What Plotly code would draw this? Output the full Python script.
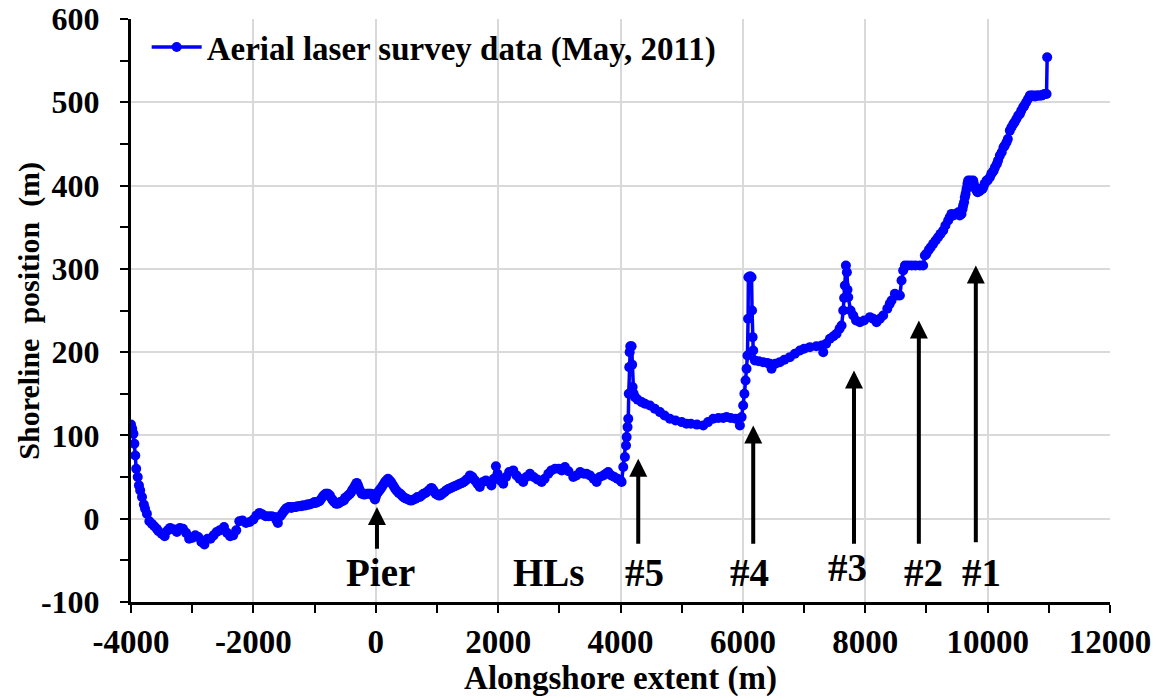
import plotly.graph_objects as go

# Shoreline position (m) versus alongshore distance (m), aerial laser survey May 2011.
# Readings are grouped by stretch of coast and merged before plotting.
west_x = [
    -4000, -3980, -3960, -3945, -3930, -3915, -3890, -3870, -3850, -3820,
    -3790, -3770, -3740, -3700, -3660, -3620, -3580, -3550, -3500, -3450,
    -3400, -3360, -3300, -3250, -3200, -3150, -3100, -3050, -3000, -2950,
    -2900, -2850, -2800, -2750, -2700, -2650, -2600, -2550, -2480, -2430,
    -2380, -2330, -2280, -2230, -2180, -2120, -2060, -2000, -1950, -1900,
    -1850, -1800, -1750, -1700, -1650, -1620, -1600, -1560, -1530, -1500,
    -1480, -1450, -1420, -1400, -1380, -1350, -1320, -1300, -1280, -1250,
    -1220, -1200, -1180, -1150, -1120, -1100, -1080, -1050, -1020, -1000,
    -980, -950, -920, -900, -870, -850, -820, -800, -780, -750,
    -720, -700, -680, -650, -620, -600, -580, -550, -520, -500,
    -480, -450, -420, -400, -380, -350, -330, -310, -290, -270,
    -250, -230, -200, -175, -150, -125, -100, -75, -50, -30,
    -13,
]
west_y = [
    113, 108, 102, 90, 76, 60, 50, 40, 34, 26,
    17, 12, 6, -3, -6, -9, -12, -15, -18, -21,
    -14, -11, -13, -16, -11, -12, -17, -24, -23, -20,
    -22, -28, -31, -24, -24, -20, -16, -14, -10, -17,
    -21, -20, -14, -3, -2, -5, -4, -1, 4, 7,
    5, 3, 3, 3, 2, -2, -5, 3, 6, 9,
    11, 13, 14, 14, 13, 14, 14, 14, 15, 15,
    15, 16, 16, 16, 17, 17, 17, 18, 19, 20,
    19, 20, 21, 23, 26, 28, 30, 30, 30, 28,
    24, 22, 20, 18, 18, 19, 20, 21, 22, 25,
    26, 28, 30, 32, 35, 38, 41, 43, 40, 36,
    33, 30, 29, 29, 30, 30, 30, 30, 29, 26,
    23,
]
central_x = [
    0, 20, 40, 60, 80, 100, 125, 150, 175, 200,
    225, 250, 275, 300, 325, 350, 375, 400, 425, 450,
    475, 500, 530, 560, 590, 620, 650, 680, 720, 750,
    780, 815, 850, 880, 910, 935, 960, 980, 1000, 1025,
    1050, 1075, 1100, 1125, 1150, 1175, 1200, 1230, 1260, 1290,
    1320, 1350, 1380, 1410, 1440, 1470, 1500, 1540, 1580, 1620,
    1660, 1700, 1750, 1800, 1850, 1890, 1930, 1964, 1990, 2030,
    2084, 2130, 2180, 2247, 2300, 2350, 2410, 2460, 2520, 2580,
    2640, 2711, 2760, 2820, 2870, 2930, 2990, 3040, 3092, 3150,
    3228, 3280, 3340, 3400, 3446, 3500, 3560, 3610, 3660, 3720,
    3760, 3799, 3850, 3900, 3950, 4000, 4018,
]
central_y = [
    26, 30, 32, 34, 36, 38, 41, 44, 46, 48,
    46, 44, 41, 38, 35, 33, 31, 30, 28, 26,
    25, 24, 23, 22, 22, 23, 24, 26, 26, 28,
    30, 31, 33, 35, 37, 35, 32, 30, 29, 28,
    28, 29, 31, 32, 34, 35, 36, 37, 38, 39,
    40, 41, 42, 43, 44, 46, 48, 52, 50, 46,
    42, 38, 44, 46, 44, 40, 48, 63, 54, 46,
    42, 50, 56, 58, 52, 48, 44, 50, 54, 50,
    47, 44, 48, 54, 58, 60, 60, 58, 62, 57,
    50, 52, 56, 54, 54, 52, 48, 44, 50, 52,
    54, 56, 52, 50, 48, 46, 44,
]
groin_x = [
    4045, 4072, 4090, 4100, 4115, 4127, 4135, 4143, 4150, 4160,
    4182, 4190, 4198, 4215, 4236, 4280, 4345, 4400, 4481, 4560,
    4644, 4720, 4807, 4900, 5000, 5080, 5150, 5250, 5352, 5430,
    5515, 5600, 5680, 5733, 5800, 5880, 5951, 5980, 6005, 6025,
    6044, 6060, 6075, 6085, 6090, 6120, 6142, 6150, 6159, 6169,
    6196, 6260, 6330, 6400, 6442, 6469, 6530, 6605, 6680, 6768,
    6850, 6932, 7000, 7095, 7200, 7286, 7313, 7360, 7422, 7480,
    7531, 7580, 7613, 7640, 7655, 7667, 7684, 7700, 7710, 7722,
    7760, 7804, 7850, 7913, 7980, 8076, 8130, 8185, 8240, 8293,
    8360, 8400, 8430, 8484, 8530, 8566, 8593, 8620, 8648, 8700,
    8760, 8820, 8893, 8946,
]
groin_y = [
    62, 74, 88, 98, 110, 120, 150, 182, 200, 207,
    207, 185, 158, 150, 146, 143, 140, 138, 136, 132,
    128, 124, 120, 118, 116, 114, 114, 113, 112, 116,
    120, 121, 121, 122, 121, 120, 112, 122, 136, 150,
    166, 180, 196, 240, 290, 291, 290, 250, 218, 202,
    190, 189, 188, 187, 186, 180, 186, 188, 191, 194,
    198, 202, 204, 206, 207, 208, 200, 210, 216, 219,
    222, 228, 232, 250, 265, 280, 304, 296, 275, 266,
    250, 244, 238, 236, 238, 242, 240, 236, 240, 244,
    252, 258, 262, 270, 268, 268, 286, 298, 304, 304,
    304, 304, 304, 304,
]
east_x = [
    8974, 9000, 9040, 9070, 9110, 9150, 9190, 9230, 9274, 9310,
    9355, 9380, 9410, 9440, 9480, 9520, 9545, 9573, 9590, 9600,
    9615, 9628, 9640, 9655, 9670, 9682, 9700, 9720, 9745, 9764,
    9775, 9790, 9805, 9819, 9835, 9860, 9880, 9900, 9915, 9928,
    9950, 9982, 10000, 10037, 10060, 10080, 10100, 10120, 10150, 10170,
    10200, 10230, 10260, 10280, 10309, 10330, 10363, 10390, 10420, 10440,
    10470, 10500, 10527, 10550, 10580, 10600, 10630, 10660, 10690, 10720,
    10750, 10775, 10799, 10820, 10850, 10880, 10900, 10930, 10963, 10973,
]
east_y = [
    316, 318, 323, 326, 330, 334, 338, 342, 346, 352,
    358, 362, 366, 364, 366, 368, 364, 366, 372, 376,
    380, 386, 390, 396, 402, 406, 405, 406, 404, 406,
    402, 398, 396, 394, 392, 393, 394, 396, 396, 398,
    402, 406, 406, 410, 414, 416, 418, 422, 426, 430,
    436, 440, 446, 448, 452, 456, 466, 470, 474, 476,
    480, 484, 486, 490, 494, 496, 500, 504, 508, 508,
    508, 507, 508, 508, 508, 508, 509, 510, 510, 554,
]

alongshore_m = west_x + central_x + groin_x + east_x
shoreline_m = west_y + central_y + groin_y + east_y

# Feature labels along the shore and the arrows pointing at them
feature_labels = ["Pier", "HLs", "#5", "#4", "#3", "#2", "#1"]
label_x = [85, 2830, 4390, 6115, 7716, 8958, 9906]
label_y = [-64, -64, -64, -64, -59, -64, -64]
arrow_x = [20, 4290, 6169, 7816, 8876, 9807]
arrow_tip_y = [14, 72, 112, 178, 238, 304]
arrow_tail_y = [-38, -32, -32, -32, -32, -30]

x_ticks = [-4000, -2000, 0, 2000, 4000, 6000, 8000, 10000, 12000]
x_tick_text = ["-4000", "-2000", "0", "2000", "4000", "6000", "8000", "10000", "12000"]
y_ticks = [-100, 0, 100, 200, 300, 400, 500, 600]
y_tick_text = ["-100", "0", "100", "200", "300", "400", "500", "600"]

FONT = "Liberation Serif, Times New Roman, serif"

fig = go.Figure()
fig.add_trace(go.Scatter(
    x=alongshore_m, y=shoreline_m, mode="lines+markers",
    name="<b>Aerial laser survey data (May, 2011)</b>",
    line=dict(color="#0000ff", width=3.5),
    marker=dict(color="#0000ff", size=10),
))

annotations = []
for ax_, tip, tail in zip(arrow_x, arrow_tip_y, arrow_tail_y):
    annotations.append(dict(
        x=ax_, y=tip, ax=ax_, ay=tail, xref="x", yref="y", axref="x", ayref="y",
        text="", showarrow=True, arrowhead=2, arrowsize=0.9, arrowwidth=4,
        arrowcolor="black",
    ))
for txt, lx, ly in zip(feature_labels, label_x, label_y):
    annotations.append(dict(
        x=lx, y=ly, xref="x", yref="y", text=f"<b>{txt}</b>", showarrow=False,
        font=dict(family=FONT, size=39, color="black"),
    ))
annotations.append(dict(
    x=-0.105, y=0.5, xref="paper", yref="paper", xanchor="center", yanchor="middle",
    text="<b>Shoreline\u00a0\u00a0position\u00a0\u00a0(m)</b>", textangle=-90,
    showarrow=False, font=dict(family=FONT, size=30, color="black"),
))

fig.update_layout(
    width=1166, height=700,
    margin=dict(l=131, r=56, t=19, b=98),
    paper_bgcolor="white", plot_bgcolor="white",
    font=dict(family=FONT, size=32, color="black"),
    showlegend=True,
    legend=dict(x=0.016, y=1.0, xanchor="left", yanchor="top", itemwidth=50,
                bgcolor="rgba(0,0,0,0)", font=dict(family=FONT, size=33)),
    annotations=annotations,
    xaxis=dict(
        range=[-4000, 12000], tickvals=x_ticks,
        ticktext=[f"<b>{t}</b>" for t in x_tick_text],
        showgrid=True, gridcolor="#d9d9d9", gridwidth=1.5,
        showline=True, linecolor="black", linewidth=3,
        ticks="outside", ticklen=8, tickwidth=2, tickcolor="black",
        minor=dict(dtick=1000, ticks="outside", ticklen=8, tickwidth=2,
                   tickcolor="black", showgrid=False),
        tickfont=dict(family=FONT, size=33), zeroline=False, automargin=False,
        title=dict(text="<b>Alongshore extent (m)</b>", standoff=2,
                   font=dict(family=FONT, size=33)),
    ),
    yaxis=dict(
        range=[-100, 600], tickvals=y_ticks,
        ticktext=[f"<b>{t}</b>" for t in y_tick_text],
        showgrid=True, gridcolor="#d9d9d9", gridwidth=1.5,
        showline=True, linecolor="black", linewidth=3,
        ticks="outside", ticklen=8, tickwidth=2, tickcolor="black",
        minor=dict(dtick=50, ticks="outside", ticklen=8, tickwidth=2,
                   tickcolor="black", showgrid=False),
        tickfont=dict(family=FONT, size=32), zeroline=False, automargin=False,
        ticklabelstandoff=14,
    ),
)

fig.write_html("out.html")
